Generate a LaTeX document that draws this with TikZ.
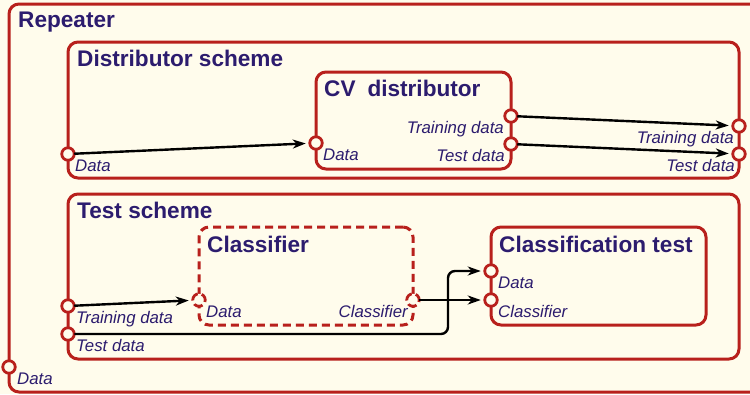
\documentclass[tikz,border=0pt]{standalone}
\usepackage{fontspec}
\setmainfont{Liberation Sans}
\usetikzlibrary{arrows.meta}

\definecolor{bgcream}{RGB}{255,252,236}
\definecolor{boxred}{RGB}{184,32,28}
\definecolor{inkblue}{RGB}{44,28,110}

\tikzset{
  block/.style={draw=boxred, line width=3pt, rounded corners=10pt,
    anchor=north west, outer sep=0pt, inner sep=0pt},
  dashedblock/.style={block, dash pattern=on 8pt off 5pt},
  port/.style={circle, draw=boxred, fill=bgcream, line width=2.8pt,
    minimum size=12.5pt, inner sep=0pt, outer sep=0pt},
  dport/.style={port, dash pattern=on 9pt off 4pt, dash phase=2pt},
  title/.style={font=\fontsize{22.6}{24}\selectfont\bfseries, text=inkblue,
    inner sep=0pt, anchor=base west},
  lbl/.style={font=\fontsize{16.8}{18}\selectfont\itshape, text=inkblue, inner sep=0pt},
  lbll/.style={lbl, anchor=base west},
  lblr/.style={lbl, anchor=base east},
  flow/.style={draw=black, line width=2.4pt,
    -{Stealth[length=13pt,width=9pt,inset=4pt]}, shorten >=4pt},
}

\begin{document}
\begin{tikzpicture}[x=1pt, y=-1pt]
  \useasboundingbox (0,0) rectangle (750,394);
  \clip (0,0) rectangle (750,394);
  \fill[bgcream] (0,0) rectangle (750,394);

  % containers
  \node[block, minimum width=766pt, minimum height=388pt] (rep) at (9,4) {};
  \node[block, minimum width=671pt, minimum height=136pt] (ds) at (68,42) {};
  \node[block, minimum width=195pt, minimum height=97pt] (cvd) at (316,72) {};
  \node[block, minimum width=671pt, minimum height=165pt] (ts) at (68,194) {};
  \node[dashedblock, minimum width=214pt, minimum height=98pt] (cls) at (199,227) {};
  \node[block, minimum width=215pt, minimum height=98pt] (ctest) at (491,227) {};

  % titles
  \node[title] (rep-t) at (18,27.5) {Repeater};
  \node[title] (ds-t) at (77,66.5) {Distributor scheme};
  \node[title] (cvd-t) at (324,96.5) {CV\hspace{0.25em} distributor};
  \node[title] (ts-t) at (77,218) {Test scheme};
  \node[title] (cls-t) at (207,252) {Classifier};
  \node[title] (ctest-t) at (499,252) {Classification test};

  % ports
  \node[port] (rep-in) at (9,367) {};
  \node[port] (ds-in) at (68,154) {};
  \node[port] (ds-tr) at (739,126) {};
  \node[port] (ds-te) at (739,154) {};
  \node[port] (cv-in) at (316,143) {};
  \node[port] (cv-tr) at (511,116) {};
  \node[port] (cv-te) at (511,144) {};
  \node[port] (ts-tr) at (68,306) {};
  \node[port] (ts-te) at (68,334) {};
  \node[dport] (cl-in) at (199,300) {};
  \node[dport] (cl-out) at (413,300) {};
  \node[port] (ct-in) at (491,271) {};
  \node[port] (ct-cl) at (491,300) {};

  % port labels
  \node[lbll] at (17,384) {Data};
  \node[lbll] at (75,171) {Data};
  \node[lblr] at (734,143) {Training data};
  \node[lblr] at (735,171) {Test data};
  \node[lbll] at (323,160) {Data};
  \node[lblr] at (504,133) {Training data};
  \node[lblr] at (505,161) {Test data};
  \node[lbll] at (76,323) {Training data};
  \node[lbll] at (76,351) {Test data};
  \node[lbll] at (206,317) {Data};
  \node[lblr] at (408,317) {Classifier};
  \node[lbll] at (498,288) {Data};
  \node[lbll] at (498,317) {Classifier};

  % connections
  \draw[flow] (ds-in) -- (cv-in);
  \draw[flow] (cv-tr) -- (ds-tr);
  \draw[flow] (cv-te) -- (ds-te);
  \draw[flow] (ts-tr) -- (cl-in);
  \draw[flow] (cl-out) -- (ct-cl);
  \coordinate (bendlow) at (448,334);
  \coordinate (bendhigh) at (448,271);
  \draw[flow, rounded corners=7pt] (ts-te) -- (bendlow) -- (bendhigh) -- (ct-in);
\end{tikzpicture}
\end{document}
